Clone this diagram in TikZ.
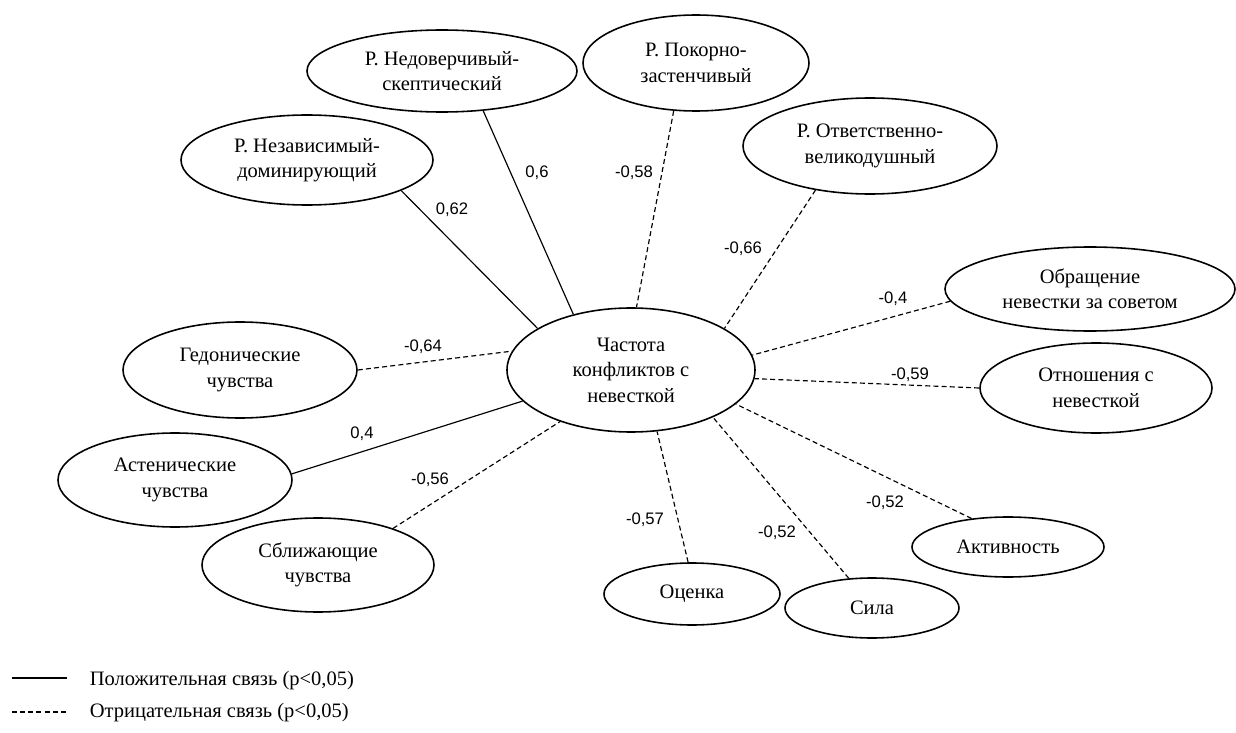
\documentclass[tikz,border=0pt]{standalone}
\usepackage{fontspec}
\setmainfont{Liberation Serif}
\newfontfamily\coeffont{Liberation Sans}
\usetikzlibrary{shapes.geometric}

\begin{document}
\begin{tikzpicture}[x=0.6pt,y=-0.6pt,
  font=\fontsize{12.3}{15.3}\selectfont,
  ell/.style 2 args={draw,ellipse,line width=0.95pt,inner sep=0pt,align=center,
    minimum width=#1*0.6pt,minimum height=#2*0.6pt},
  poslink/.style={line width=0.7pt},
  neglink/.style={line width=0.7pt,dash pattern=on 3pt off 1.9pt},
  coef/.style={font=\coeffont\fontsize{10}{12}\selectfont}]
  \useasboundingbox (0,0) rectangle (1236,733);

  % Central variable
  \node[ell={248}{124}] (freq) at (631,370) {Частота\\конфликтов с\\невесткой};

  % Related variables
  \node[ell={252}{90}] (nezav) at (307,160) {Р. Независимый-\\доминирующий};
  \node[ell={270}{82}] (nedov) at (442,71) {Р. Недоверчивый-\\скептический};
  \node[ell={226}{96}] (pokor) at (696,63) {Р. Покорно-\\застенчивый};
  \node[ell={254}{96}] (otvet) at (870,146) {Р. Ответственно-\\великодушный};
  \node[ell={290}{84}] (obr) at (1090,289) {Обращение\\невестки за советом};
  \node[ell={232}{90}] (otn) at (1096,388) {Отношения с\\невесткой};
  \node[ell={234}{96}] (gedon) at (240,370) {Гедонические\\чувства};
  \node[ell={234}{94}] (asten) at (175,480) {Астенические\\чувства};
  \node[ell={232}{94}] (sbliz) at (318,565) {Сближающие\\чувства};
  \node[ell={176}{62}] (ocen) at (692,594) {Оценка};
  \node[ell={174}{60}] (sila) at (872,608) {Сила};
  \node[ell={192}{60}] (aktiv) at (1008,547) {Активность};

  % Correlations
  \draw[poslink] (nezav.342) -- (freq.156);
  \draw[poslink] (nedov.316) -- (freq.136);
  \draw[neglink] (pokor.245) -- (freq.85);
  \draw[neglink] (otvet.219) -- (freq.24);
  \draw[neglink] (obr.185) -- (freq.7);
  \draw[neglink] (otn.180) -- (freq.-4);
  \draw[neglink] (gedon.0) -- (freq.171);
  \draw[poslink] (asten.3) -- (freq.196);
  \draw[neglink] (sbliz.26) -- (freq.216);
  \draw[neglink] (ocen.97) -- (freq.293);
  \draw[neglink] (sila.128) -- (freq.330);
  \draw[neglink] (aktiv.142) -- (freq.342);

  % Coefficients
  \node[coef] (c-nezav) at (452,210) {0,62};
  \node[coef] (c-nedov) at (537,173) {0,6};
  \node[coef] (c-pokor) at (634,173) {-0,58};
  \node[coef] (c-otvet) at (743,249) {-0,66};
  \node[coef] (c-obr) at (893,299) {-0,4};
  \node[coef] (c-otn) at (910,375) {-0,59};
  \node[coef] (c-gedon) at (423,347) {-0,64};
  \node[coef] (c-asten) at (362,434) {0,4};
  \node[coef] (c-sbliz) at (430,480) {-0,56};
  \node[coef] (c-ocen) at (645,520) {-0,57};
  \node[coef] (c-sila) at (777,533) {-0,52};
  \node[coef] (c-aktiv) at (885,503) {-0,52};

  % Legend
  \coordinate (lp1) at (12,678);
  \coordinate (lp2) at (67,678);
  \coordinate (ln1) at (12,712);
  \coordinate (ln2) at (67,712);
  \draw[poslink] (lp1) -- (lp2);
  \draw[neglink] (ln1) -- (ln2);
  \node[anchor=west] (leg-pos) at (84,681) {Положительная связь (p<0,05)};
  \node[anchor=west] (leg-neg) at (84,713) {Отрицательная связь (p<0,05)};
\end{tikzpicture}
\end{document}
